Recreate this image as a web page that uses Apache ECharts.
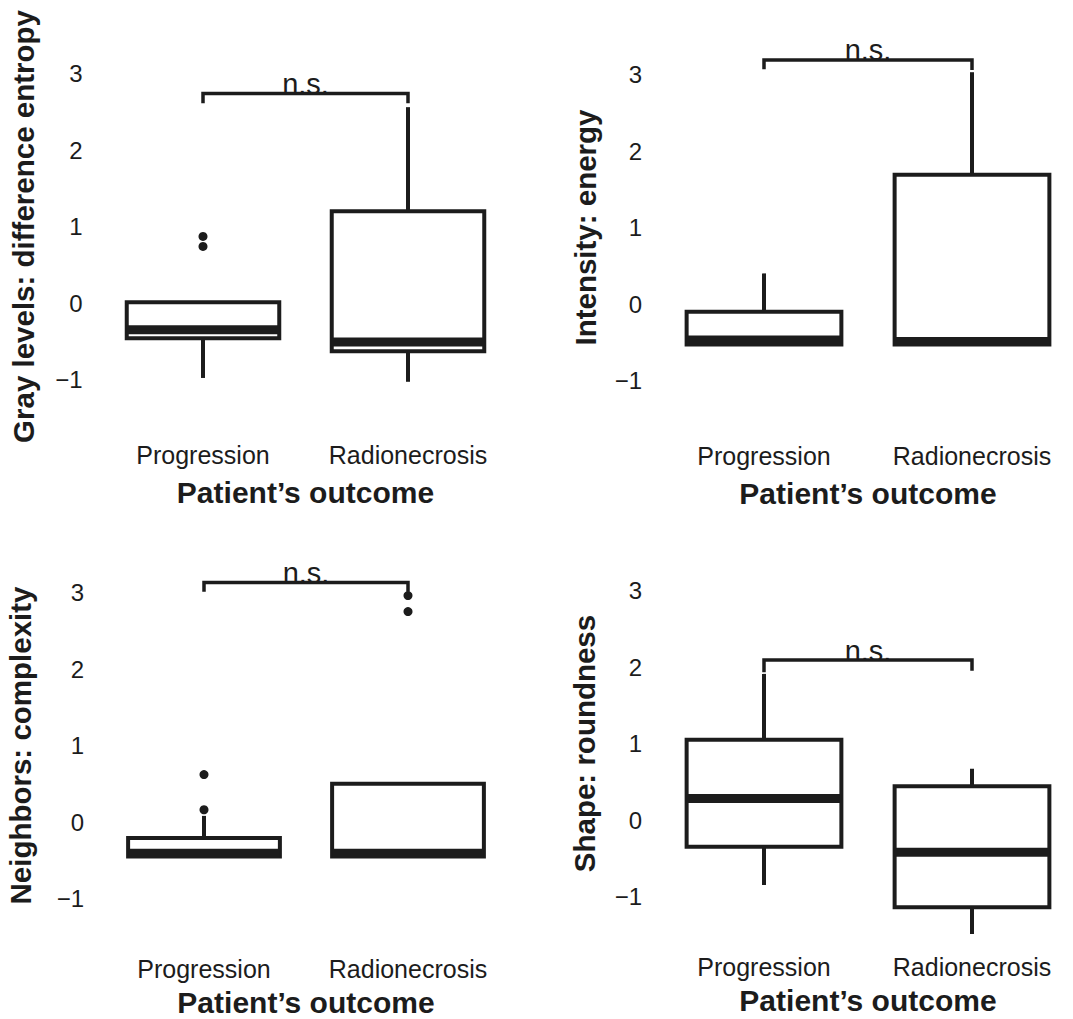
<!DOCTYPE html>
<html><head><meta charset="utf-8">
<script src="https://cdn.jsdelivr.net/npm/echarts@6/dist/echarts.min.js"></script>
<style>html,body{margin:0;padding:0;background:#fff}#c{width:1073px;height:1019px}</style>
</head><body><div id="c"></div>
<script>
// ---------- data ----------
const categories = ['Progression', 'Radionecrosis'];
const xTitle = 'Patient\u2019s outcome';
const yTitles = ['Gray levels: difference entropy', 'Intensity: energy', 'Neighbors: complexity', 'Shape: roundness'];
const yTickValues = [-1, 0, 1, 2, 3];
const sigLabel = 'n.s.';
// box stats per category: [min, q1, median, q3, max]
const grayBoxes = [[-0.98, -0.46, -0.35, 0.01, 0.01], [-1.03, -0.63, -0.51, 1.20, 2.56]];
const grayOutliers = [[0, 0.87], [0, 0.74]];
const grayBracket = [2.74, 2.61, 2.61];      // [bar, left end, right end]
const energyBoxes = [[-0.53, -0.53, -0.47, -0.10, 0.40], [-0.53, -0.53, -0.49, 1.69, 3.03]];
const energyOutliers = [];
const energyBracket = [3.19, 3.07, 3.06];
const complexityBoxes = [[-0.45, -0.45, -0.41, -0.21, 0.08], [-0.45, -0.45, -0.41, 0.50, 0.50]];
const complexityOutliers = [[0, 0.16], [0, 0.62], [1, 2.96], [1, 2.75]];
const complexityBracket = [3.13, 3.01, 3.01];
const roundBoxes = [[-0.85, -0.35, 0.28, 1.05, 1.91], [-1.49, -1.14, -0.42, 0.44, 0.67]];
const roundOutliers = [];
const roundBracket = [2.09, 1.93, 1.95];

// ---------- layout ----------
const C = '#1c1c1c';
const FONT = '"Liberation Sans", Arial, Helvetica, sans-serif';
const panels = [
  { boxes: grayBoxes, outliers: grayOutliers, bracket: grayBracket, left: 100.5, width: 410, top: 35.25, yGap: 62, lblMargin: 25, xGap: 60 },
  { boxes: energyBoxes, outliers: energyOutliers, bracket: energyBracket, left: 660, width: 416, top: 36.25, yGap: 60, lblMargin: 25, xGap: 60 },
  { boxes: complexityBoxes, outliers: complexityOutliers, bracket: complexityBracket, left: 102, width: 408, top: 554.25, yGap: 67, lblMargin: 20, xGap: 51 },
  { boxes: roundBoxes, outliers: roundOutliers, bracket: roundBracket, left: 660, width: 416, top: 552.25, yGap: 61, lblMargin: 20, xGap: 51 }
];
const GRID_H = 382.5;

function renderBox(params, api) {
  const x = api.value(0);
  const mn = api.value(1), q1 = api.value(2), md = api.value(3), q3 = api.value(4), mx = api.value(5);
  const band = api.size([1, 0])[0];
  const hw = band * 0.372;
  const pQ3 = api.coord([x, q3]), pQ1 = api.coord([x, q1]), pMd = api.coord([x, md]);
  const pMn = api.coord([x, mn]), pMx = api.coord([x, mx]);
  const cx = pQ3[0];
  const ch = [];
  if (mx > q3) ch.push({ type: 'line', shape: { x1: cx, y1: pMx[1], x2: cx, y2: pQ3[1] }, style: { stroke: C, lineWidth: 4 } });
  if (mn < q1) ch.push({ type: 'line', shape: { x1: cx, y1: pQ1[1], x2: cx, y2: pMn[1] }, style: { stroke: C, lineWidth: 4 } });
  ch.push({ type: 'rect', shape: { x: cx - hw, y: pQ3[1], width: 2 * hw, height: pQ1[1] - pQ3[1] }, style: { fill: '#fff', stroke: C, lineWidth: 4, lineJoin: 'miter' } });
  ch.push({ type: 'line', shape: { x1: cx - hw, y1: pMd[1], x2: cx + hw, y2: pMd[1] }, style: { stroke: C, lineWidth: 9 } });
  return { type: 'group', children: ch };
}

function renderBracket(params, api) {
  const yb = api.value(0), y1 = api.value(1), y2 = api.value(2);
  const pL = api.coord([0, yb]), pR = api.coord([1, yb]);
  const eL = api.coord([0, y1]), eR = api.coord([1, y2]);
  return { type: 'group', children: [
    { type: 'polyline', shape: { points: [[pL[0], eL[1]], [pL[0], pL[1]], [pR[0], pR[1]], [pR[0], eR[1]]] },
      style: { stroke: C, lineWidth: 3.5, fill: null, lineJoin: 'miter' } },
    { type: 'text', x: (pL[0] + pR[0]) / 2, y: pL[1] + 5,
      style: { text: sigLabel, fontSize: 29, fontFamily: FONT, fill: C, align: 'center', verticalAlign: 'bottom' } }
  ] };
}

const grid = [], xAxis = [], yAxis = [], series = [];
panels.forEach((p, i) => {
  grid.push({ left: p.left, width: p.width, top: p.top, height: GRID_H, containLabel: false, outerBoundsMode: 'none' });
  xAxis.push({
    type: 'category', gridIndex: i, data: categories,
    axisLine: { show: false }, axisTick: { show: false }, splitLine: { show: false },
    axisLabel: { fontSize: 25, color: C, margin: p.lblMargin, fontFamily: FONT, interval: 0 },
    name: xTitle, nameLocation: 'middle', nameGap: p.xGap,
    nameTextStyle: { fontSize: 30, fontWeight: 'bold', color: C, fontFamily: FONT }
  });
  yAxis.push({
    type: 'value', gridIndex: i, min: -1.5, max: 3.5, interval: 0.5,
    axisLine: { show: false }, axisTick: { show: false }, splitLine: { show: false },
    axisLabel: {
      fontSize: 24, color: C, margin: 18, fontFamily: FONT,
      formatter: v => yTickValues.includes(v) ? (v < 0 ? '\u2212' + (-v) : String(v)) : ''
    },
    name: yTitles[i], nameLocation: 'middle', nameGap: p.yGap, nameRotate: 90,
    nameTextStyle: { fontSize: 29.5, fontWeight: 'bold', color: C, fontFamily: FONT }
  });
  series.push({
    type: 'custom', xAxisIndex: i, yAxisIndex: i, renderItem: renderBox,
    data: p.boxes.map((b, k) => [k].concat(b)), encode: { x: 0, y: [1, 2, 3, 4, 5] }, silent: true
  });
  series.push({
    type: 'scatter', xAxisIndex: i, yAxisIndex: i, data: p.outliers, symbolSize: 9,
    itemStyle: { color: C, opacity: 1 }, silent: true
  });
  series.push({
    type: 'custom', xAxisIndex: i, yAxisIndex: i, renderItem: renderBracket,
    data: [p.bracket], encode: { y: [0, 1, 2] }, silent: true
  });
});

const chart = echarts.init(document.getElementById('c'), null, { renderer: 'svg' });
chart.setOption({ animation: false, backgroundColor: '#fff', grid, xAxis, yAxis, series });
</script>
</body></html>
